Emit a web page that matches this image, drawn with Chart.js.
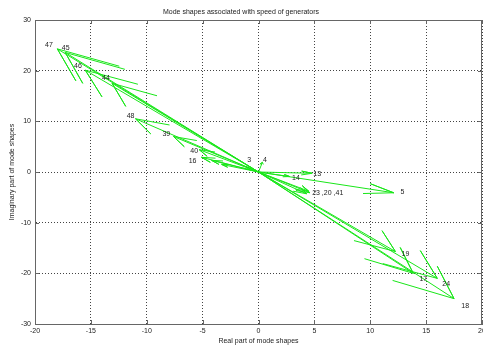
<!DOCTYPE html>
<html>
<head>
<meta charset="utf-8">
<script src="https://cdn.jsdelivr.net/npm/chart.js@4/dist/chart.umd.min.js"></script>
<style>
  html, body { margin: 0; padding: 0; background: #fff; }
</style>
</head>
<body>
<canvas id="chart" width="483" height="347"></canvas>
<script>
// generator number written next to each arrow ('' = arrow without label)
const genLabels = ['47', '45', '46', '44', '48', '39', '40', '16', '', '',
    '3', '4', '13', '14', '23 ,20 ,41', '', '', '5', '19', '17', '24', '18'];
// arrow tips: real and imaginary part of the mode shape
const tipRe = [-18.0, -17.3, -15.5, -13.1, -11.0, -7.6, -5.3, -5.1, -4.2, -3.3,
    -1.1, 0.35, 4.8, 2.8, 4.6, 4.5, 4.3, 12.1, 12.25, 13.85, 16.0, 17.5];
const tipIm = [24.3, 23.6, 20.1, 17.5, 10.5, 7.0, 4.4, 2.9, 2.3, 1.5,
    1.0, 1.9, -0.25, -0.9, -4.1, -3.8, -4.3, -4.1, -15.7, -20.0, -21.0, -25.0];
// where the number text sits (data units)
const labelRe = [-19.1, -17.6, -16.5, -14.0, -11.8, -8.6, -6.1, -6.25, 0, 0,
    -1.0, 0.4, 4.9, 3.0, 4.8, 0, 0, 12.7, 12.8, 14.4, 16.45, 18.15];
const labelIm = [25.0, 24.5, 20.9, 18.5, 11.0, 7.5, 4.2, 2.2, 0, 0,
    2.4, 2.4, -0.4, -1.2, -4.2, 0, 0, -3.9, -16.2, -21.1, -22.1, -26.4];

const xTicks = [-20, -15, -10, -5, 0, 5, 10, 15, 20];
const yTicks = [-30, -20, -10, 0, 10, 20, 30];

// compass style arrow: shaft to tip, two barbs at 0.8 of length, +-0.08 sideways
function arrowPoints(re, im) {
    const shape = [[0, 0], [1, 0], [0.8, 0.08], [1, 0], [0.8, -0.08]];
    return shape.map(([a, b]) => ({ x: a * re - b * im, y: a * im + b * re }));
}

const datasets = tipRe.map((re, i) => ({
    data: arrowPoints(re, tipIm[i]),
    showLine: true,
    borderColor: '#19e619',
    borderWidth: 1,
    pointRadius: 0,
    fill: false
}));

const textFont = { family: 'Liberation Sans, Arial, sans-serif', size: 7 };

// numbers at the arrows
const labelPlugin = {
    id: 'arrowLabels',
    afterDatasetsDraw(chart) {
        const { ctx, scales: { x, y } } = chart;
        ctx.save();
        ctx.font = '7px Liberation Sans, Arial, sans-serif';
        ctx.fillStyle = '#222';
        ctx.textAlign = 'left';
        ctx.textBaseline = 'middle';
        genLabels.forEach((txt, i) => {
            if (!txt) return;
            ctx.fillText(txt, x.getPixelForValue(labelRe[i]), y.getPixelForValue(labelIm[i]));
        });
        ctx.restore();
    }
};

// box around the axes and inward tick marks
const boxPlugin = {
    id: 'axesBox',
    afterDraw(chart) {
        const { ctx, chartArea: a, scales: { x, y } } = chart;
        ctx.save();
        ctx.strokeStyle = '#666';
        ctx.lineWidth = 1;
        ctx.strokeRect(a.left + 0.5, a.top + 0.5, a.right - a.left - 1, a.bottom - a.top);
        ctx.beginPath();
        xTicks.forEach(v => {
            const px = Math.round(x.getPixelForValue(v)) + 0.5;
            ctx.moveTo(px, a.bottom); ctx.lineTo(px, a.bottom - 4);
            ctx.moveTo(px, a.top); ctx.lineTo(px, a.top + 4);
        });
        yTicks.forEach(v => {
            const py = Math.round(y.getPixelForValue(v)) + 0.5;
            ctx.moveTo(a.left, py); ctx.lineTo(a.left + 4, py);
            ctx.moveTo(a.right, py); ctx.lineTo(a.right - 4, py);
        });
        ctx.stroke();
        ctx.restore();
    }
};

new Chart(document.getElementById('chart').getContext('2d'), {
    type: 'scatter',
    data: { datasets },
    options: {
        responsive: false,
        animation: false,
        layout: { padding: { left: 0, right: 1, top: 0, bottom: 0 } },
        plugins: {
            legend: { display: false },
            tooltip: { enabled: false },
            title: {
                display: true,
                text: 'Mode shapes associated with speed of generators',
                color: '#222',
                font: { ...textFont, weight: 'normal' },
                padding: { top: 7.6, bottom: 4 }
            }
        },
        scales: {
            x: {
                type: 'linear',
                min: -20,
                max: 20,
                afterBuildTicks: s => { s.ticks = xTicks.map(v => ({ value: v })); },
                afterFit: s => { s.height = 23; s.paddingLeft = 0; s.paddingRight = 0; },
                grid: { color: '#444', lineWidth: 1, drawTicks: false },
                border: { display: true, color: '#666', dash: [1, 2] },
                ticks: { font: textFont, color: '#222', padding: 3, maxRotation: 0, autoSkip: false },
                title: {
                    display: true,
                    text: 'Real part of mode shapes',
                    color: '#222',
                    font: textFont,
                    padding: { top: 0, bottom: 1.8 }
                }
            },
            y: {
                type: 'linear',
                min: -30,
                max: 30,
                afterBuildTicks: s => { s.ticks = yTicks.map(v => ({ value: v })); },
                afterFit: s => { s.width = 35; },
                grid: { color: '#444', lineWidth: 1, drawTicks: false },
                border: { display: true, color: '#666', dash: [1, 2] },
                ticks: { font: textFont, color: '#222', padding: 4, autoSkip: false },
                title: {
                    display: true,
                    text: 'Imaginary part of mode shapes',
                    color: '#222',
                    font: textFont,
                    padding: { top: 7.8, bottom: 0 }
                }
            }
        }
    },
    plugins: [labelPlugin, boxPlugin]
});
</script>
</body>
</html>
